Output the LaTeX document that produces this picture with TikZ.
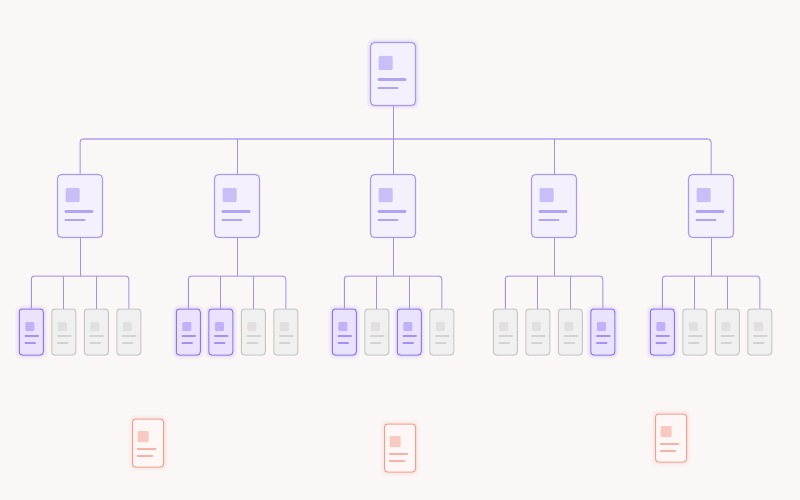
\documentclass[tikz,border=0pt]{standalone}
\usetikzlibrary{calc}

\definecolor{paper}{HTML}{FAF7F6}
\definecolor{wire}{HTML}{A193EA}
\definecolor{docline}{HTML}{A99AEC}
\definecolor{docfill}{HTML}{F4F0FC}
\definecolor{docmark}{HTML}{B4A2F2}
\definecolor{onfill}{HTML}{EBE3FD}
\definecolor{online}{HTML}{8F74EE}
\definecolor{onmark}{HTML}{A690F2}
\definecolor{offfill}{HTML}{F1F0F0}
\definecolor{offline}{HTML}{C6C4C4}
\definecolor{offmark}{HTML}{D4D2D2}
\definecolor{notefill}{HTML}{FFF7F5}
\definecolor{noteline}{HTML}{F0A093}
\definecolor{notemark}{HTML}{F5B2A7}

% icon square + two text bars inside a card
% #1 colour, #2/#3 offset, #4 square, #5/#6 bar rows, #7/#8 bar lengths, #9 bar width
\newcommand\cardmarks[9]{%
  \coordinate (nw) at (path picture bounding box.north west);
  \fill[#1!70,rounded corners=1pt] ($(nw)+(#2,#3)$) rectangle ++(#4,#4);
  \draw[#1,line width=#9,line cap=round] ($(nw)+(#2,#5)$) -- ++(#7,0);
  \draw[#1,line width=#9,line cap=round] ($(nw)+(#2,#6)$) -- ++(#8,0);
}

\tikzset{
  glow/.style={preaction={draw=#1,line width=8pt,opacity=0.06},
               preaction={draw=#1,line width=4pt,opacity=0.1}},
  doc/.style={draw=docline,fill=docfill,line width=1.1pt,rounded corners=4pt,
              minimum width=45pt,minimum height=63pt,inner sep=0pt,
              path picture={\cardmarks{docmark}{8}{13.5}{14}{37}{45.5}{27}{19}{2.2pt}}},
  leaf0/.style={draw=offline,fill=offfill,line width=1pt,rounded corners=3pt,
              minimum width=24pt,minimum height=46pt,inner sep=0pt,
              path picture={\cardmarks{offmark}{6}{13}{9}{27}{34}{13}{10}{1.6pt}}},
  leaf1/.style={leaf0,draw=online,fill=onfill,glow=online,
              path picture={\cardmarks{onmark}{6}{13}{9}{27}{34}{13}{10}{1.6pt}}},
  note/.style={draw=noteline,fill=notefill,line width=1pt,rounded corners=3pt,
              minimum width=31pt,minimum height=48pt,inner sep=0pt,glow=noteline,
              path picture={\cardmarks{notemark}{5}{12}{11}{30}{37}{18}{15}{1.6pt}}}
}

\begin{document}
\begin{tikzpicture}[x=1pt,y=-1pt,
  link/.style={draw=wire,line width=1pt,rounded corners=3pt}]

  \fill[paper] (0,0) rectangle (800,500);
  \useasboundingbox (0,0) rectangle (800,500);

  \node[doc,glow=online] (root) at (393,74) {};
  \coordinate (hub) at (393,139);

  \foreach \k/\x/\flags in {1/80/{1,0,0,0},2/237/{1,1,0,0},3/393/{1,0,1,0},
                            4/554/{0,0,0,1},5/711/{1,0,0,0}} {
    \node[doc] (g\k) at (\x,206) {};
    \coordinate (split\k) at (\x,276);
    \foreach \s [count=\j] in \flags {
      \pgfmathsetmacro\lx{\x+(\j-2.5)*32.5}
      \node[leaf\s] (g\k-\j) at (\lx,332) {};
    }
  }

  % top level
  \draw[link] (g1.north) |- (hub) -| (g5.north);
  \draw[link] (root.south) -- (hub);
  \foreach \k in {2,3,4}
    \draw[link] (hub -| g\k) -- (g\k.north);

  % second level
  \foreach \k in {1,...,5} {
    \draw[link] (g\k.south) -- (split\k);
    \draw[link] (g\k-1.north) |- (split\k) -| (g\k-4.north);
    \draw[link] (split\k -| g\k-2) -- (g\k-2.north);
    \draw[link] (split\k -| g\k-3) -- (g\k-3.north);
  }

  % loose notes
  \node[note] (n1) at (148,443) {};
  \node[note] (n2) at (400,448) {};
  \node[note] (n3) at (671,438) {};
\end{tikzpicture}
\end{document}
